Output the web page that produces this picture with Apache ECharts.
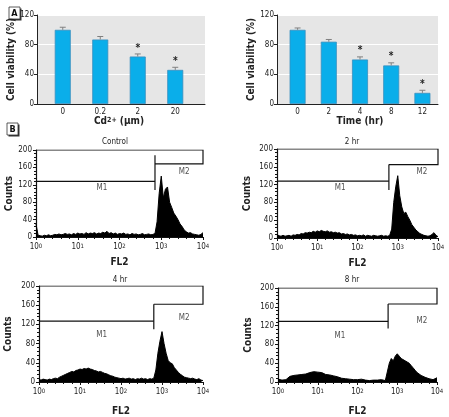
<!DOCTYPE html>
<html><head><meta charset="utf-8">
<script src="https://cdn.jsdelivr.net/npm/echarts@6/dist/echarts.min.js"></script>
<style>html,body{margin:0;padding:0;background:#fff}#c{width:449px;height:417px}</style>
</head><body><div id="c"></div>
<script>
// ---------- Panel A data ----------
const cdCategories = ['0', '0.2', '2', '20'];
const cdViability = [100, 87, 64, 46];
const cdError = [3.5, 4, 3.5, 3.5];
const cdSignificant = [0, 0, 1, 1];

const timeCategories = ['0', '2', '4', '8', '12'];
const timeViability = [100, 84, 60, 52, 15];
const timeError = [2.5, 3, 3.5, 3.5, 3.5];
const timeSignificant = [0, 0, 1, 1, 1];

// ---------- Panel B data (FL2 in log10 units) ----------
const fl2Bins = [0,0.05,0.1,0.15,0.2,0.25,0.3,0.35,0.4,0.45,0.5,0.55,0.6,0.65,0.7,0.75,0.8,0.85,0.9,0.95,
  1,1.05,1.1,1.15,1.2,1.25,1.3,1.35,1.4,1.45,1.5,1.55,1.6,1.65,1.7,1.75,1.8,1.85,1.9,1.95,
  2,2.05,2.1,2.15,2.2,2.25,2.3,2.35,2.4,2.45,2.5,2.55,2.6,2.65,2.7,2.75,2.8,2.85,2.9,2.95,
  3,3.05,3.1,3.15,3.2,3.25,3.3,3.35,3.4,3.45,3.5,3.55,3.6,3.65,3.7,3.75,3.8,3.85,3.9,3.95,4];

const countsControl = [30,4,3,2,4,3,5,3,4,6, 5,7,5,6,8,6,7,5,8,6, 9,7,8,6,10,7,9,8,10,7,
  9,8,11,9,13,8,10,7,9,6, 8,7,9,6,7,5,8,6,7,5, 6,8,5,6,7,5,6,8,35,100,
  140,90,110,115,80,68,55,48,40,30, 24,16,12,9,10,7,6,5,4,6, 10];
const counts2hr = [8,5,4,6,4,5,6,4,7,6, 8,7,10,9,12,11,13,12,15,13, 16,14,17,15,14,16,13,14,12,13,
  11,12,9,10,8,9,7,8,6,7, 5,6,5,7,4,6,5,4,6,5, 4,5,6,4,5,4,6,20,80,115,
  140,95,70,55,58,48,40,30,24,18, 14,10,8,6,5,4,5,8,12,6, 3];
const counts4hr = [5,4,6,5,4,6,5,7,8,7, 10,12,14,16,18,20,22,21,24,25, 27,26,28,27,29,27,26,24,23,21,
  22,20,18,17,15,13,12,10,9,8, 7,8,6,7,8,6,7,5,7,6, 8,6,7,5,7,6,8,25,60,85,
  105,80,60,45,40,38,30,25,20,16, 13,10,9,8,7,8,6,5,7,4, 3];
const counts8hr = [6,5,4,6,5,8,12,15,14,16, 15,17,16,18,17,19,20,18,22,19, 21,18,20,17,16,14,15,12,13,10,
  11,9,8,9,7,8,6,7,5,6, 5,4,6,5,4,5,3,5,4,5, 4,3,5,4,3,5,40,50,45,55,
  60,55,50,52,45,48,40,35,30,25, 20,17,14,12,10,8,7,5,5,4, 9];

const histTitles = ['Control', '2 hr', '4 hr', '8 hr'];
const histCounts = [countsControl, counts2hr, counts4hr, counts8hr];
// gate markers: M1 level, M2 level, split position (log10 FL2), split tick low/high
const markerM1 = [128, 128, 127, 129];
const markerM2 = [168, 165, 162, 166];
const markerSplit = [2.85, 2.78, 2.8, 2.77];
const markerSplitLow = [108, 108, 110, 114];
const markerSplitHigh = [188, 165, 162, 166];
const labelM1 = [[1.58, 113], [1.57, 112], [1.53, 98], [1.56, 98]];
const labelM2 = [[3.55, 150], [3.6, 148], [3.54, 133], [3.62, 130]];

// ---------- layout ----------
const FONT = "'Liberation Sans Narrow','DejaVu Sans Condensed','Arial Narrow','Liberation Sans',sans-serif";
const barColor = '#0aaeea';
const histGrids = [
  {left: 36, top: 150, width: 167, height: 87},
  {left: 277, top: 149, width: 161, height: 89},
  {left: 39, top: 286, width: 164, height: 97},
  {left: 278, top: 288, width: 159, height: 94}
];
const histNameGap = [20, 20, 24, 24];
const histYNameGap = [22, 25, 26, 25];
const histTitlePos = [[115, 142], [352, 142], [120, 280], [352, 280]];

const grid = [
  {left: 37, top: 15, width: 168, height: 89, show: true, backgroundColor: '#e6e6e6', borderWidth: 0},
  {left: 44, top: 15, width: 150, height: 89},
  {left: 277, top: 15, width: 161, height: 89, show: true, backgroundColor: '#e6e6e6', borderWidth: 0},
  {left: 282, top: 15, width: 156, height: 89}
].concat(histGrids);

const xAxis = [], yAxis = [], series = [];

function bgAxes(gi) {
  xAxis.push({gridIndex: gi, type: 'value', min: 0, max: 1, axisLabel: {show: false}, axisTick: {show: false},
    splitLine: {show: false}, axisLine: {show: true, lineStyle: {color: '#222', width: 1}}});
  yAxis.push({gridIndex: gi, type: 'value', min: 0, max: 120, interval: 40,
    axisLine: {show: true, lineStyle: {color: '#222', width: 1}},
    axisTick: {show: true, length: 3, lineStyle: {color: '#222'}},
    axisLabel: {fontSize: 8, color: '#222', fontFamily: FONT, margin: 3},
    splitLine: {show: true, lineStyle: {color: '#ffffff', width: 1}},
    name: 'Cell viability (%)', nameLocation: 'middle', nameGap: 20,
    nameTextStyle: {fontSize: 10, fontWeight: 'bold', fontFamily: FONT, color: '#222'}});
}
function barAxes(gi, cats, name) {
  xAxis.push({gridIndex: gi, type: 'category', data: cats, axisLine: {show: false}, axisTick: {show: false},
    axisLabel: {fontSize: 8, color: '#222', fontFamily: FONT, margin: 4},
    name: name, nameLocation: 'middle', nameGap: 10,
    nameTextStyle: {fontSize: 10, fontWeight: 'bold', fontFamily: FONT, color: '#222',
      rich: {sup: {fontSize: 7, fontWeight: 'bold', fontFamily: FONT, verticalAlign: 'top', color: '#222'}}}});
  yAxis.push({gridIndex: gi, type: 'value', min: 0, max: 120, show: false});
}
function errorSeries(ai, values, errors, sig) {
  return {
    type: 'custom', xAxisIndex: ai, yAxisIndex: ai, z: 5, silent: true,
    data: values.map((v, i) => [i, v, errors[i], sig[i]]),
    renderItem(params, api) {
      const i = api.value(0), v = api.value(1), e = api.value(2), s = api.value(3);
      const p0 = api.coord([i, v]), p1 = api.coord([i, v + e]);
      const ch = [
        {type: 'line', shape: {x1: p0[0], y1: p0[1], x2: p1[0], y2: p1[1]}, style: {stroke: '#808080', lineWidth: 1}},
        {type: 'line', shape: {x1: p1[0] - 3, y1: p1[1], x2: p1[0] + 3, y2: p1[1]}, style: {stroke: '#808080', lineWidth: 1}}
      ];
      if (s) ch.push({type: 'text', style: {text: '*', x: p1[0], y: p1[1] - 1, align: 'center', verticalAlign: 'bottom',
        fontSize: 10, fontWeight: 'bold', fill: '#222', fontFamily: FONT}});
      return {type: 'group', children: ch};
    }
  };
}

bgAxes(0);
barAxes(1, cdCategories, 'Cd{sup|2+} (μm)');
bgAxes(2);
barAxes(3, timeCategories, 'Time (hr)');

series.push({type: 'bar', xAxisIndex: 1, yAxisIndex: 1, data: cdViability, barWidth: 16,
  itemStyle: {color: barColor, borderColor: '#3a8fbf', borderWidth: 0.8}});
series.push(errorSeries(1, cdViability, cdError, cdSignificant));
series.push({type: 'bar', xAxisIndex: 3, yAxisIndex: 3, data: timeViability, barWidth: 16,
  itemStyle: {color: barColor, borderColor: '#3a8fbf', borderWidth: 0.8}});
series.push(errorSeries(3, timeViability, timeError, timeSignificant));

histCounts.forEach((counts, k) => {
  const gi = 4 + k;
  xAxis.push({gridIndex: gi, type: 'value', min: 0, max: 4, interval: 1,
    axisLine: {show: true, lineStyle: {color: '#111', width: 1.2}},
    axisTick: {show: true, length: 3, lineStyle: {color: '#111'}},
    minorTick: {show: true, splitNumber: 5, length: 2, lineStyle: {color: '#111'}},
    splitLine: {show: false},
    axisLabel: {fontSize: 8, color: '#222', fontFamily: FONT, margin: 6,
      formatter: v => '10{sup|' + v + '}',
      rich: {sup: {fontSize: 6, fontFamily: FONT, verticalAlign: 'top', color: '#222'}}},
    name: 'FL2', nameLocation: 'middle', nameGap: histNameGap[k],
    nameTextStyle: {fontSize: 10, fontWeight: 'bold', fontFamily: FONT, color: '#222'}});
  yAxis.push({gridIndex: gi, type: 'value', min: 0, max: 200, interval: 40,
    axisLine: {show: true, lineStyle: {color: '#111', width: 1.2}},
    axisTick: {show: true, length: 3, lineStyle: {color: '#111'}},
    minorTick: {show: true, splitNumber: 5, length: 2, lineStyle: {color: '#111'}},
    splitLine: {show: false},
    axisLabel: {fontSize: 8, color: '#222', fontFamily: FONT, margin: 4},
    name: 'Counts', nameLocation: 'middle', nameGap: histYNameGap[k],
    nameTextStyle: {fontSize: 10, fontWeight: 'bold', fontFamily: FONT, color: '#222'}});
  series.push({type: 'line', xAxisIndex: gi, yAxisIndex: gi, data: fl2Bins.map((b, i) => [b, counts[i]]),
    symbol: 'none', silent: true, lineStyle: {color: '#000', width: 1}, areaStyle: {color: '#000', opacity: 1}});
  const s = markerSplit[k];
  series.push({type: 'lines', coordinateSystem: 'cartesian2d', xAxisIndex: gi, yAxisIndex: gi, polyline: true, silent: true,
    lineStyle: {color: '#111', width: 1.2, opacity: 1},
    data: [
      {coords: [[0, 200], [4, 200], [4, markerM2[k]], [s, markerM2[k]]]},
      {coords: [[0, markerM1[k]], [s, markerM1[k]]]},
      {coords: [[s, markerSplitLow[k]], [s, markerSplitHigh[k]]]}
    ]});
  series.push({type: 'scatter', xAxisIndex: gi, yAxisIndex: gi, symbolSize: 0, silent: true,
    label: {show: true, position: 'inside', formatter: p => p.name, fontSize: 8, color: '#222', fontFamily: FONT},
    data: [{name: 'M1', value: labelM1[k]}, {name: 'M2', value: labelM2[k]}]});
});

function panelLetter(txt, x, y) {
  return {type: 'group', x: x, y: y, children: [
    {type: 'rect', shape: {x: 1.5, y: 1.5, width: 11, height: 12}, style: {fill: '#333'}},
    {type: 'rect', shape: {x: 0, y: 0, width: 11, height: 12}, style: {fill: '#fff', stroke: '#333', lineWidth: 0.8}},
    {type: 'text', style: {text: txt, x: 5.5, y: 6.5, align: 'center', verticalAlign: 'middle', fontSize: 9, fontWeight: 'bold', fill: '#111', fontFamily: FONT}}
  ]};
}
const graphic = [panelLetter('A', 9, 7), panelLetter('B', 7, 123)];
histTitles.forEach((t, k) => graphic.push({type: 'text', x: histTitlePos[k][0], y: histTitlePos[k][1],
  style: {text: t, align: 'center', verticalAlign: 'middle', fontSize: 8, fill: '#222', fontFamily: FONT}}));

const chart = echarts.init(document.getElementById('c'), null, {renderer: 'canvas'});
chart.setOption({animation: false, backgroundColor: '#fff', grid, xAxis, yAxis, series, graphic});
</script></body></html>
